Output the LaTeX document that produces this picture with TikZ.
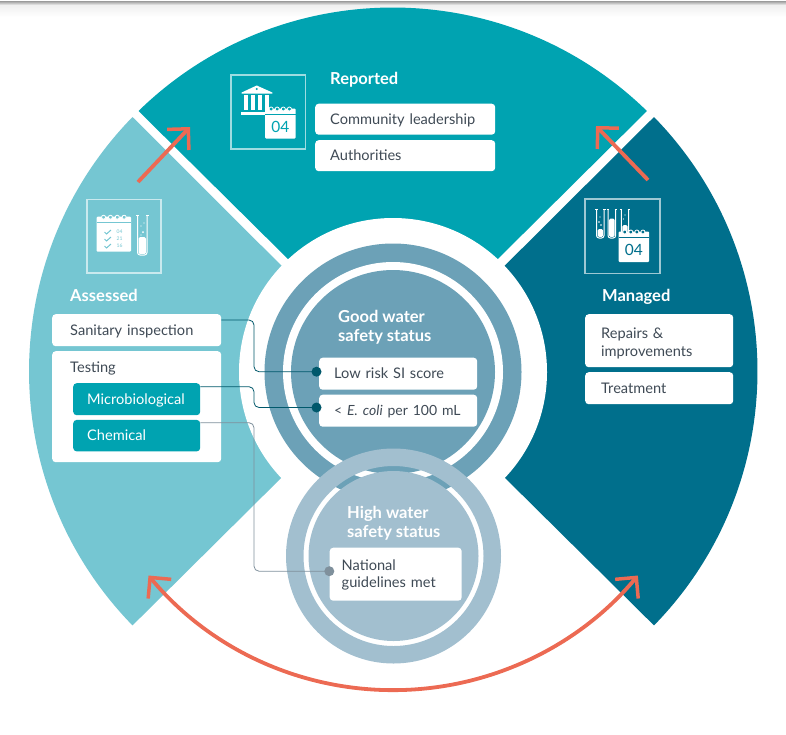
\documentclass[tikz,border=0pt]{standalone}
\usepackage{fontspec}
\setmainfont{Lato}
\usetikzlibrary{arrows.meta,calc}
\definecolor{tealA}{HTML}{00A3B1}
\definecolor{tealL}{HTML}{75C6D2}
\definecolor{tealD}{HTML}{006F8C}
\definecolor{ringA}{HTML}{6CA1B7}
\definecolor{ringB}{HTML}{A2BFCF}
\definecolor{ink}{HTML}{3F4A55}
\definecolor{orng}{HTML}{EC6A53}
\definecolor{linkD}{HTML}{00586B}
\definecolor{linkG}{HTML}{7F909C}
\newcommand{\mystrut}{\rule[-3.5pt]{0pt}{17pt}}
\newcommand{\headstrut}{\rule[-5.7pt]{0pt}{19pt}}
\tikzset{
 x=1pt,y=-1pt,
 boxw/.style n args={4}{fill=#1,rounded corners=3.5pt,align=left,anchor=north west,inner ysep=0pt,inner xsep=#4,
   minimum height=#3,minimum width=#2,text width=#2-2*#4,font=\fontsize{14.6}{17.5}\selectfont,
   execute at begin node=\mystrut,execute at end node=\mystrut},
 darktext/.style={text=ink},
 lighttext/.style={text=white},
 head/.style={text=white,font=\fontsize{16.5}{19}\selectfont\bfseries,align=left,anchor=west,inner sep=0pt,
   execute at begin node=\headstrut,execute at end node=\headstrut},
 link/.style={line width=0.8pt,rounded corners=5pt},
 dotm/.style={circle,inner sep=0pt,minimum size=10pt},
 loop/.style={draw=orng,line width=3.8pt},
 barb/.tip={Straight Barb[length=15pt,width=30pt,line width=3.5pt]},
}
% calendar: name, x1, y1, x2, y2, colour, text, font size
\newcommand{\calicon}[8]{%
  \fill[white,rounded corners=1pt] (#2,#3) rectangle (#4,#5);
  \draw[#6,line width=0.8pt] (#2,#3+6) -- (#4,#3+6);
  \foreach \i in {0.2,0.4,0.6,0.8}{
    \draw[white,line width=0.8pt,fill=#6] ($(#2,#3)!\i!(#4,#3)+(0,0.5)$) circle[radius=2];
  }
  \node[text=#6,inner sep=0pt,font=\fontsize{#8}{#8}\selectfont] (#1) at ($(#2,#3+6)!0.5!(#4,#5)$) {#7};
}
% test tube: x1, y1, x2, y2, fill start
\newcommand{\tubeicon}[5]{%
  \draw[white,line width=1pt,rounded corners=2.5pt] (#1,#2) -- (#1,#4) -- (#3,#4) -- (#3,#2);
  \draw[white,line width=1pt] (#1-1.5,#2) -- (#1+1,#2) (#3-1,#2) -- (#3+1.5,#2);
  \fill[white,rounded corners=1.5pt] (#1+1,#5) -- (#1+1,#4-1) -- (#3-1,#4-1) -- (#3-1,#5) -- cycle;
}
\begin{document}
\begin{tikzpicture}
\useasboundingbox (0,0) rectangle (786,734);
% top shadow
\shade[top color=black!35,bottom color=black!6] (0,1.5) rectangle (786,5);
\shade[top color=black!6,bottom color=white] (0,5) rectangle (786,17);
% sectors
\fill[tealA] (393,363) -- (138.5,111) arc[start angle=225.7,end angle=314.3,radius=364] -- cycle;
\fill[tealL] (388,372) -- (132.5,117) arc[start angle=224.3,end angle=135.7,radius=364] -- cycle;
\fill[tealD] (398,372) -- (654,117) arc[start angle=-44.3,end angle=44.3,radius=364] -- cycle;
% centre: good status
\fill[white] (393,372) circle[radius=154];
\fill[ringA] (393,372) circle[radius=128.5];
\fill[white] (393,372) circle[radius=110];
\fill[ringA] (393,372) circle[radius=102];
% high status: the gap in its ring shows what lies under it
\fill[ringB,even odd rule] (393.5,556) circle[radius=107.5] (393.5,556) circle[radius=90];
\fill[ringB] (393.5,556) circle[radius=85];
% headings
\node[head] (lrep) at (330,81) {Reported};
\node[head] (lass) at (70,298) {Assessed};
\node[head] (lman) at (602,298) {Managed};
\node[head] (lgood) at (338,328.7) {Good water\\safety status};
\node[head] (lhigh) at (347,524.7) {High water\\safety status};
% boxes
\node[boxw={white}{180pt}{31pt}{15pt},darktext] (b1) at (315,103.5) {Community leadership};
\node[boxw={white}{180pt}{31pt}{15pt},darktext] (b2) at (315,140) {Authorities};
\node[boxw={white}{169pt}{32pt}{18pt},darktext] (san) at (52,314) {Sanitary inspection};
\node[boxw={white}{169pt}{111pt}{18pt}] (tst) at (52,351) {};
\node[anchor=west,inner sep=0pt,darktext,font=\fontsize{14.6}{17.5}\selectfont] (ttst) at (70,367.5) {\mystrut Testing};
\node[boxw={tealA}{127pt}{32pt}{14pt},lighttext] (mic) at (73,383) {Microbiological};
\node[boxw={tealA}{127pt}{31.5pt}{14pt},lighttext] (che) at (73,419.7) {Chemical};
\node[boxw={white}{158pt}{32pt}{15pt},darktext] (low) at (319,357.5) {Low risk SI score};
\node[boxw={white}{158pt}{32pt}{15pt},darktext] (eco) at (319,394.5) {\mbox{\fontsize{14}{17}\selectfont < \textit{E. coli} per 100 mL}};
\node[boxw={white}{132pt}{53pt}{12pt},darktext] (nat) at (329.5,547.5) {National\\guidelines met};
\node[boxw={white}{148pt}{53pt}{16pt},darktext] (rep) at (585,314) {\rule{0pt}{17pt}Repairs \&\\improvements};
\node[boxw={white}{148pt}{32pt}{16pt},darktext] (tre) at (585,372) {Treatment};
% connectors
\node[dotm,fill=linkD] (d1) at (316.5,371.7) {};
\node[dotm,fill=linkD] (d2) at (316.5,407.5) {};
\node[dotm,fill=linkG] (d3) at (329.3,571.2) {};
\draw[link,draw=linkD] (san.east |- 0,320) -- (254,320) -- (254,371.7) -- (d1.center);
\draw[link,draw=linkD] (mic.east |- 0,386.7) -- (254,386.7) -- (254,407.5) -- (d2.center);
\draw[link,draw=linkG] (che.east |- 0,422.7) -- (254,422.7) -- (254,571.2) -- (d3.center);
% icon frames
\draw[white!62!tealA,line width=1.2pt] (231,75) rectangle (305.5,149);
\draw[white!62!tealL,line width=1.2pt] (87,199.5) rectangle (161,273);
\draw[white!62!tealD,line width=1.2pt] (585,199) rectangle (660,273.5);
% bank icon
\fill[white] (241.7,92.5) -- (256.7,85.5) -- (272.3,92.5) -- (272.3,93.5) -- (241.7,93.5) -- cycle;
\foreach \c in {246,253,259.7,267}{\fill[white] (\c-2,95) rectangle (\c+2,110);}
\fill[white] (241,111.5) rectangle (266,114.5);
\fill[tealA] (256.7,89) circle[radius=1.2];
\calicon{cal1}{265}{108.5}{295.5}{138.5}{tealA}{04}{15.5}
% assessed icon
\calicon{cal2}{96.7}{216.7}{131}{251.7}{tealL}{}{5}
\foreach \yy in {232,239,246}{\draw[tealL,line width=1pt] (104.5,\yy) -- (106.5,\yy+2) -- (111,\yy-2);}
\node[text=tealL,inner sep=0pt,font=\fontsize{5}{5}\selectfont] (n04) at (119.5,231.5) {04};
\node[text=tealL,inner sep=0pt,font=\fontsize{5}{5}\selectfont] (n21) at (119.5,238.5) {21};
\node[text=tealL,inner sep=0pt,font=\fontsize{5}{5}\selectfont] (n16) at (119.5,245.5) {16};
\tubeicon{137.5}{215.5}{147}{255}{237}
\fill[white] (141,226) circle[radius=.7] (144,223) circle[radius=.7] (143,232) circle[radius=1] (141,235) circle[radius=.7];
% managed icon
\tubeicon{596.5}{209.5}{604}{238}{229}
\fill[white] (599,222) circle[radius=.8] (601,225) circle[radius=.8] (600,217) circle[radius=.7];
\tubeicon{608}{209.5}{615.7}{238}{218.7}
\tubeicon{621.3}{209.5}{628.7}{238}{225}
\fill[white] (625,215) circle[radius=.7] (623.5,219) circle[radius=.7];
\calicon{cal3}{618.7}{231.5}{649}{262}{tealD}{04}{15.5}
% loop arrows
\coordinate (a1) at (138,182); \coordinate (a2) at (190,127);
\coordinate (a3) at (648,180); \coordinate (a4) at (596,126);
\draw[loop,-{barb}] (a1) -- (a2);
\draw[loop,-{barb}] (a3) -- (a4);
\draw[loop,{barb}-{barb}] (148.5,575.5) arc[start angle=140.2,end angle=39.8,radius=318.5];
\end{tikzpicture}
\end{document}
